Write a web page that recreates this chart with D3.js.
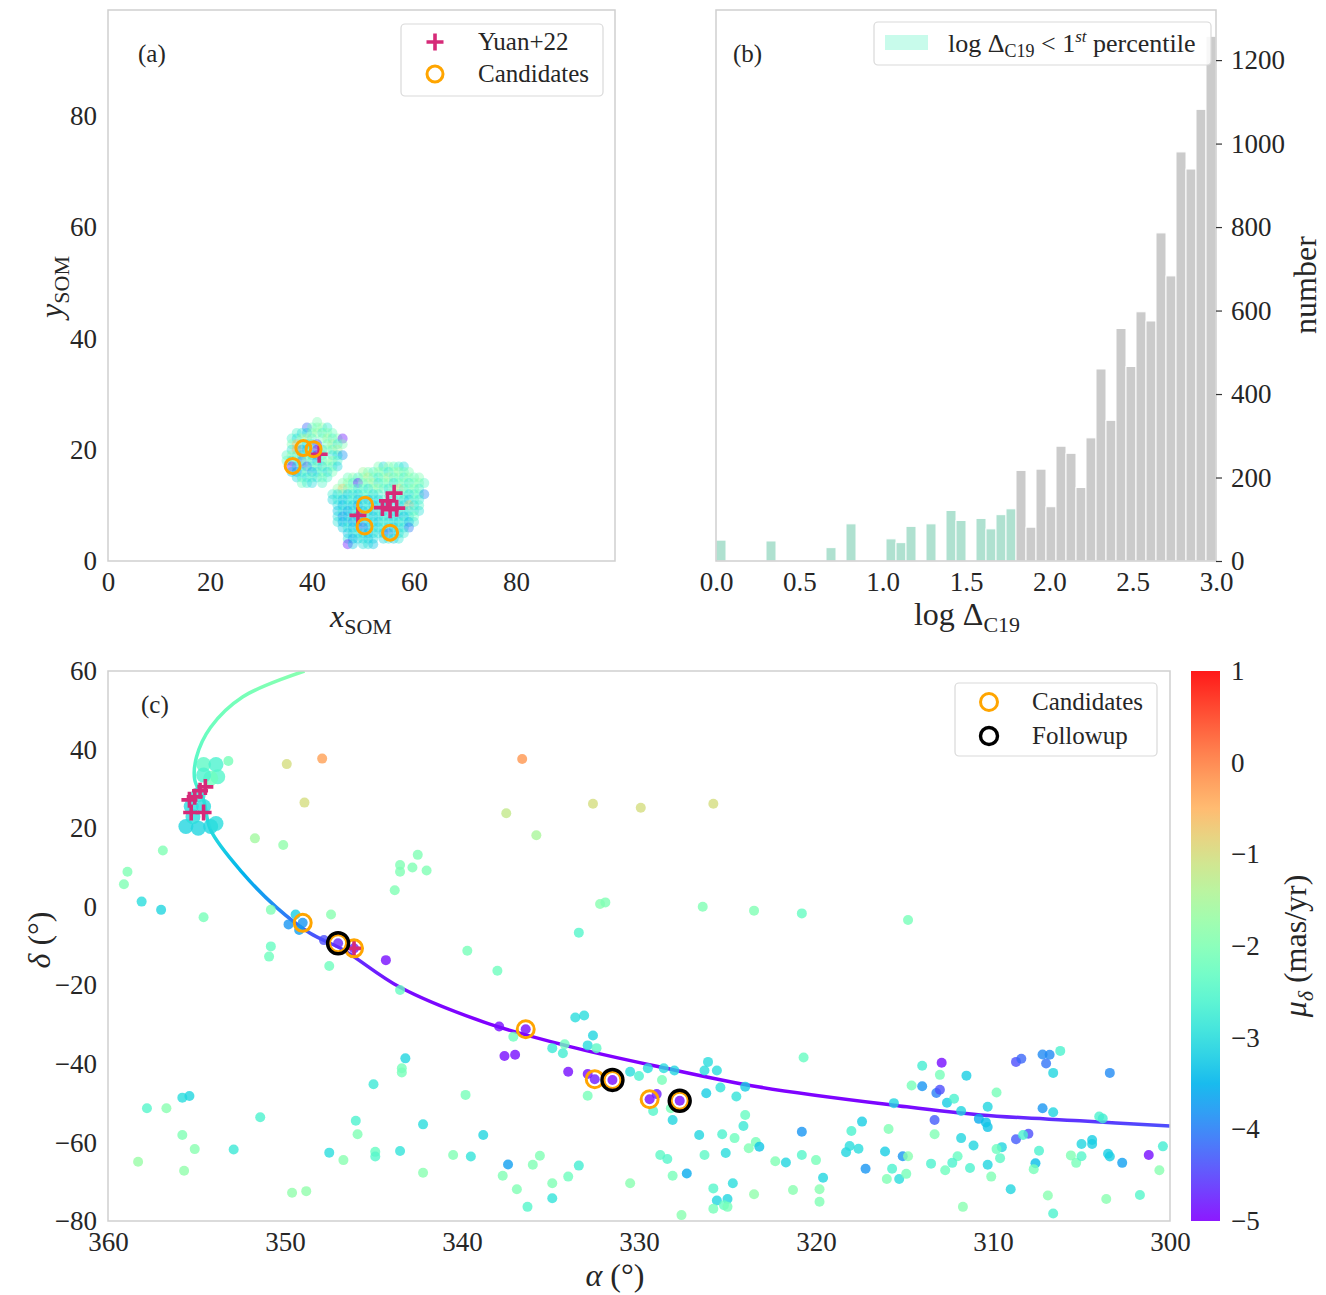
<!DOCTYPE html>
<html>
<head>
<meta charset="utf-8">
<script src="https://cdn.jsdelivr.net/npm/d3@7"></script>
<style>
  body { margin: 0; background: #fff; }
  text { font-family: "Liberation Serif", "Times New Roman", serif; fill: #262626; }
</style>
</head>
<body>
<svg id="fig" width="1326" height="1295"></svg>
<script>
// ---------- data ----------
// panel (a): SOM positions [x, y, pm_dec]
var somA = [
  [41,25,-2.0],
  [39,24,-4.2],[40,24,-2.2],[41,24,-2.0],[42,24,-1.8],[43,24,-2.8],
  [37,23,-2.5],[38,23,-2.9],[39,23,-3.2],[40,23,-2.0],[41,23,-1.7],[42,23,-2.6],[43,23,-1.9],[44,23,-2.2],
  [36,22,-2.6],[37,22,-3.0],[38,22,-1.8],[39,22,-1.5],[40,22,-2.4],[42,22,-2.2],[43,22,-1.6],[44,22,-2.5],[45,22,-2.0],[46,22,-4.8],
  [36,21,-2.0],[37,21,-0.6],[38,21,-2.4],[39,21,-3.0],[40,21,-2.8],[41,21,-4.5],[43,21,-2.2],[44,21,-1.5],[45,21,-2.8],[46,21,-2.0],
  [36,20,-2.9],[37,20,-0.4],[38,20,-3.6],[39,20,-3.3],[40,20,-2.2],[41,20,-4.9],[42,20,-3.0],[43,20,-1.8],[44,20,-2.4],[45,20,-1.5],
  [35,19,-2.4],[36,19,-1.8],[37,19,-2.5],[38,19,-3.1],[39,19,-2.0],[40,19,-3.4],[41,19,-4.7],[42,19,-2.6],[44,19,-2.9],[45,19,-3.0],[46,19,-3.8],
  [35,18,-2.2],[36,18,-3.0],[37,18,-2.0],[38,18,-4.0],[39,18,-1.9],[40,18,-2.7],[41,18,-3.2],[42,18,-2.3],[43,18,-2.1],[44,18,-1.7],[45,18,-2.6],
  [36,17,-4.9],[37,17,-3.2],[38,17,-2.4],[39,17,-4.3],[40,17,-2.8],[41,17,-2.0],[42,17,-3.1],[43,17,-2.0],[44,17,-2.5],[45,17,-3.1],
  [36,16,-3.3],[37,16,-3.9],[38,16,-3.0],[39,16,-2.2],[40,16,-3.6],[41,16,-2.9],[42,16,-2.3],[43,16,-3.1],[44,16,-2.1],
  [37,15,-3.1],[38,15,-2.6],[39,15,-3.0],[40,15,-2.3],[41,15,-2.9],[42,15,-2.0],[43,15,-2.6],
  [38,14,-2.2],[39,14,-2.7],[40,14,-3.0],[42,14,-2.5]
];
var somB = [
  [53,17,-2.0],[54,17,-3.0],[55,17,-1.8],[56,17,-2.2],[57,17,-2.6],[58,17,-3.0],
  [50,16,-1.6],[51,16,-2.0],[52,16,-2.4],[53,16,-1.8],[54,16,-2.1],[55,16,-2.8],[56,16,-2.0],[57,16,-1.7],[58,16,-2.3],[59,16,-2.0],
  [47,15,-2.2],[48,15,-1.9],[49,15,-2.5],[50,15,-2.0],[51,15,-1.3],[52,15,-2.2],[53,15,-2.7],[54,15,-2.0],[55,15,-1.5],[56,15,-2.4],[57,15,-2.0],[58,15,-2.6],[59,15,-1.8],[60,15,-2.2],[61,15,-2.0],
  [46,14,-2.0],[47,14,-1.8],[48,14,-2.6],[49,14,-4.8],[50,14,-2.2],[51,14,-2.0],[52,14,-1.6],[53,14,-2.8],[54,14,-2.2],[55,14,-2.0],[56,14,-2.9],[57,14,-2.3],[58,14,-2.0],[59,14,-2.7],[60,14,-2.1],[61,14,-1.9],[62,14,-2.4],
  [45,13,-1.8],[46,13,-0.8],[47,13,-2.3],[48,13,-2.0],[49,13,-2.8],[50,13,-2.2],[51,13,-3.0],[52,13,-2.1],[53,13,-1.7],[54,13,-2.4],[55,13,-2.8],[56,13,-2.0],[57,13,-0.9],[58,13,-2.5],[59,13,-2.2],[60,13,-1.9],[61,13,-2.6],
  [44,12,-2.7],[45,12,-3.0],[46,12,-2.5],[47,12,-3.2],[48,12,-2.8],[49,12,-3.1],[50,12,-2.6],[51,12,-2.3],[52,12,-3.0],[53,12,-2.7],[55,12,-2.4],[57,12,-2.6],[58,12,-2.0],[59,12,-3.0],[60,12,-2.6],[61,12,-2.2],[62,12,-3.9],
  [44,11,-3.1],[45,11,-2.8],[46,11,-3.3],[47,11,-3.0],[48,11,-2.6],[49,11,-3.3],[50,11,-2.9],[51,11,-3.5],[52,11,-2.8],[53,11,-3.1],[54,11,-2.6],[56,11,-3.0],[57,11,-2.4],[58,11,-2.9],[59,11,-3.2],[60,11,-2.2],[61,11,-2.8],
  [45,10,-3.0],[46,10,-3.4],[47,10,-2.9],[48,10,-3.2],[49,10,-3.6],[50,10,-3.0],[51,10,-2.7],[52,10,-3.3],[53,10,-3.0],[54,10,-2.8],[55,10,-3.2],[57,10,-2.9],[58,10,-3.1],[59,10,-0.7],[60,10,-3.0],[61,10,-2.5],
  [45,9,-3.3],[46,9,-2.9],[47,9,-3.6],[48,9,-3.1],[49,9,-2.8],[50,9,-3.4],[51,9,-3.0],[52,9,-3.2],[53,9,-2.6],[54,9,-3.1],[56,9,-2.8],[57,9,-3.2],[58,9,-2.5],[59,9,-3.0],[60,9,-2.4],[61,9,-2.9],
  [45,8,-3.0],[46,8,-3.8],[47,8,-3.2],[48,8,-2.7],[49,8,-3.4],[50,8,-3.1],[51,8,-2.6],[52,8,-3.3],[53,8,-2.9],[54,8,-3.0],[55,8,-2.8],[56,8,-3.2],[57,8,-2.7],[58,8,-3.4],[59,8,-2.9],[60,8,-2.3],
  [45,7,-2.9],[46,7,-3.5],[47,7,-3.1],[48,7,-3.7],[49,7,-3.0],[50,7,-3.3],[51,7,-2.8],[52,7,-3.0],[53,7,-3.2],[54,7,-2.6],[55,7,-3.0],[56,7,-2.8],[57,7,-3.1],[58,7,-2.6],[59,7,-3.5],[60,7,-2.7],
  [46,6,-3.2],[47,6,-2.8],[48,6,-3.4],[49,6,-3.0],[50,6,-4.2],[51,6,-3.3],[52,6,-2.9],[53,6,-3.1],[54,6,-2.7],[55,6,-3.0],[56,6,-3.3],[57,6,-2.8],[58,6,-3.0],[59,6,-4.0],
  [47,5,-3.3],[48,5,-3.0],[49,5,-2.7],[50,5,-3.1],[51,5,-3.4],[52,5,-3.0],[53,5,-2.8],[54,5,-3.2],[55,5,-4.2],[56,5,-2.9],[57,5,-3.1],[58,5,-2.7],
  [47,4,-3.0],[48,4,-3.6],[49,4,-3.1],[50,4,-2.9],[51,4,-3.3],[52,4,-3.0],[54,4,-3.1],[55,4,-2.8],[56,4,-3.2],[57,4,-2.8],
  [47,3,-4.8],[48,3,-3.2],[50,3,-3.0],[51,3,-2.9],[52,3,-3.3]
];
var somYuan = [[41.4,19.2],[49.0,8.2],[53.8,9.6],[54.8,10.8],[56.1,12.2],[56.6,9.5],[55.3,9.2]];
var somCand = [[36.2,17.1],[38.3,20.3],[40.3,20.1],[50.4,10.1],[50.3,6.2],[55.3,5.1]];

// panel (b): histogram of log Delta_C19, 50 bins over [0, 3]
var histEdges = [0, 3];
var histCounts = [50,0,0,0,0,48,0,0,0,0, 0,32,0,89,0,0,0,53,44,83,
                  0,89,0,121,97,0,102,77,111,125, 217,81,220,130,275,258,176,295,460,337,
                  557,466,597,575,786,683,980,939,1082,1257];
var percentileCut = 1.8;

// panel (c): [ra, dec, pm_dec]
var fieldStars = [
  [349.9,36.3,-1.0],[347.9,37.7,-0.3],[348.9,26.5,-1.0],[351.7,17.4,-1.6],[350.1,15.7,-1.8],[356.9,14.3,-2.0],
  [358.9,8.9,-2.0],[359.1,5.7,-2.0],[358.1,1.3,-3.0],[357.0,-0.8,-3.1],[354.6,-2.7,-2.1],[350.8,-0.8,-2.0],
  [347.4,-2.0,-1.9],[350.8,-10.1,-2.3],[350.9,-12.7,-2.2],[349.8,-4.5,-3.8],[349.4,-2.0,-3.2],[349.2,-5.9,-3.7],
  [349.0,-4.1,-3.8],[347.5,-15.1,-2.2],[347.8,-8.5,-4.4],[347.0,-9.3,-4.7],[346.1,-10.6,-4.8],[344.3,-13.6,-4.9],
  [339.7,-11.2,-2.1],[338.0,-16.3,-2.2],[343.5,-21.2,-2.3],[337.9,-30.5,-4.9],[336.4,-31.2,-4.9],[337.1,-33.1,-2.2],
  [334.9,-36.0,-2.8],[334.3,-37.3,-2.7],[334.2,-35.0,-2.2],[337.6,-38.0,-4.9],[337.0,-37.7,-4.9],[334.0,-42.0,-4.9],
  [343.2,-38.6,-3.1],[343.4,-41.1,-2.1],[343.4,-42.2,-2.1],[345.0,-45.2,-2.8],[339.8,-47.9,-2.1],[351.4,-53.6,-2.6],
  [346.0,-54.5,-2.6],[345.9,-57.9,-2.0],[342.2,-55.4,-3.0],[338.8,-58.1,-3.1],[347.5,-62.6,-3.0],[346.7,-64.5,-1.9],
  [344.9,-62.4,-2.3],[344.9,-63.6,-2.5],[343.5,-62.2,-2.9],[340.5,-63.2,-2.0],[339.5,-63.6,-2.9],[337.4,-65.6,-3.7],
  [337.7,-68.5,-2.0],[336.9,-71.9,-2.0],[336.3,-76.4,-2.5],[336.0,-65.7,-2.0],[335.6,-63.4,-2.0],[334.9,-70.4,-2.0],
  [334.9,-74.2,-2.9],[334.0,-68.7,-2.2],[342.2,-67.7,-1.9],[349.6,-72.8,-1.8],[348.8,-72.4,-1.8],[357.8,-51.3,-2.5],
  [356.7,-51.3,-1.9],[355.8,-48.6,-3.0],[355.4,-48.2,-3.1],[355.8,-58.1,-2.0],[355.1,-61.7,-1.9],[358.3,-64.9,-1.7],
  [355.7,-67.2,-1.8],[352.9,-61.8,-2.8],[333.6,-28.2,-3.0],[333.1,-27.7,-3.0],[332.6,-32.8,-3.1],[332.9,-35.3,-3.0],
  [332.4,-36.0,-2.4],[332.9,-42.6,-4.9],[332.5,-43.9,-4.8],[332.9,-48.1,-2.1],[331.5,-44.1,-4.9],[330.5,-42.0,-3.0],
  [330.0,-43.1,-2.6],[329.5,-41.1,-3.0],[328.6,-41.1,-3.0],[328.0,-41.7,-3.1],[328.7,-44.1,-2.1],[329.4,-49.0,-4.9],
  [329.0,-47.7,-4.8],[329.2,-52.0,-2.5],[328.2,-51.3,-2.1],[328.1,-54.3,-3.1],[327.7,-49.4,-4.9],[326.3,-41.7,-3.0],
  [325.6,-41.7,-3.0],[326.1,-39.5,-3.0],[325.4,-46.0,-2.9],[324.5,-48.3,-2.9],[326.2,-47.5,-3.2],[324.0,-45.8,-3.2],
  [320.7,-38.4,-2.3],[324.0,-53.0,-2.3],[324.1,-55.8,-2.8],[326.6,-58.1,-3.1],[325.3,-57.9,-2.6],[324.6,-58.9,-2.2],
  [323.4,-59.9,-2.1],[323.2,-61.1,-3.3],[323.8,-61.5,-2.0],[320.8,-57.3,-3.8],[320.8,-63.2,-2.5],[320.0,-64.5,-2.1],
  [321.7,-65.1,-3.1],[322.3,-64.8,-2.0],[319.6,-69.0,-3.1],[326.3,-63.2,-2.4],[325.1,-62.7,-3.0],[328.8,-63.2,-2.4],
  [328.4,-64.2,-2.5],[328.1,-68.5,-2.1],[327.3,-67.9,-3.6],[330.5,-70.4,-1.9],[333.4,-65.9,-2.7],[325.8,-71.7,-2.5],
  [324.7,-70.4,-3.0],[325.6,-74.8,-3.1],[325.0,-74.4,-3.1],[325.8,-76.9,-2.1],[325.2,-76.0,-2.3],[325.0,-76.4,-2.1],
  [323.5,-73.2,-1.8],[321.3,-72.1,-1.9],[319.8,-71.9,-1.9],[319.8,-75.1,-2.0],[327.6,-78.5,-1.9],[318.3,-62.5,-3.1],
  [318.1,-60.9,-3.0],[317.6,-61.6,-3.0],[318.0,-57.1,-2.6],[317.4,-54.7,-3.2],[317.2,-66.7,-3.8],[316.1,-62.3,-3.2],
  [315.9,-56.6,-2.0],[315.7,-66.7,-2.6],[316.0,-69.3,-2.0],[315.3,-69.3,-3.0],[315.6,-50.0,-3.1],[314.0,-40.5,-2.7],
  [312.9,-39.7,-4.9],[313.0,-42.8,-2.1],[314.6,-45.5,-2.1],[314.0,-45.7,-3.8],[313.2,-47.4,-4.0],[313.0,-46.6,-4.4],
  [311.5,-43.0,-3.2],[312.6,-49.9,-3.2],[312.2,-48.9,-2.6],[311.8,-52.0,-3.1],[309.8,-47.3,-2.1],[310.8,-54.0,-3.6],
  [310.4,-54.9,-3.4],[310.3,-56.1,-3.3],[310.3,-50.9,-3.1],[313.3,-54.3,-4.3],[313.3,-57.9,-2.0],[311.8,-58.9,-3.1],
  [311.1,-60.8,-3.1],[308.7,-39.5,-4.4],[308.4,-38.7,-4.2],[307.2,-37.6,-3.9],[306.8,-37.7,-3.9],[307.0,-39.9,-4.1],
  [306.2,-36.7,-2.6],[306.6,-42.3,-3.1],[303.4,-42.3,-3.9],[307.2,-51.3,-3.8],[306.6,-52.3,-3.1],[304.0,-53.4,-2.6],
  [303.8,-53.9,-2.7],[308.7,-59.2,-4.3],[308.0,-57.8,-4.4],[308.3,-58.1,-2.6],[309.5,-61.2,-3.1],[309.8,-61.7,-2.2],
  [309.6,-64.0,-2.4],[310.3,-65.7,-3.1],[310.1,-68.7,-2.0],[309.0,-71.9,-3.1],[311.7,-76.4,-1.9],[311.3,-66.5,-2.6],
  [312.0,-63.5,-2.3],[312.3,-65.2,-2.6],[312.7,-67.1,-2.2],[313.5,-65.4,-2.6],[315.1,-63.5,-3.8],[314.8,-63.5,-1.9],
  [314.9,-68.0,-2.1],[307.4,-62.1,-2.6],[307.6,-65.3,-3.4],[307.7,-66.8,-2.1],[306.9,-73.5,-1.9],[306.6,-78.1,-2.6],
  [305.6,-63.3,-2.0],[305.3,-65.2,-2.1],[305.0,-63.5,-2.5],[305.0,-60.4,-3.1],[304.4,-59.4,-3.2],[304.4,-60.4,-3.2],
  [303.5,-62.9,-3.2],[303.4,-63.6,-3.2],[302.7,-65.2,-3.7],[303.6,-74.4,-1.9],[301.7,-73.4,-2.5],[301.2,-63.2,-4.9],
  [300.4,-61.0,-2.7],[300.6,-67.1,-1.9],[336.6,37.6,-0.2],[337.5,23.8,-1.2],[332.6,26.2,-1.0],[329.9,25.2,-1.0],
  [325.8,26.2,-1.0],[335.8,18.2,-1.5],[342.5,13.2,-2.0],[343.5,10.6,-2.0],[343.5,8.9,-2.0],[342.8,10.0,-2.0],
  [342.0,9.2,-2.0],[343.8,4.2,-2.0],[332.2,0.7,-1.9],[331.9,1.1,-2.0],[326.4,0.0,-2.0],[323.5,-1.0,-2.0],
  [320.8,-1.7,-2.3],[314.8,-3.4,-2.1],[333.4,-6.6,-2.5],[353.2,37.1,-2.1]
];
var clusterStars = [
  [354.6,36.2,-2.4],[353.9,36.2,-2.6],[353.8,33.1,-2.5],[354.2,32.7,-2.2],[354.6,33.5,-2.6],[355.3,25.5,-3.0],
  [355.6,20.4,-3.1],[354.9,20.0,-3.1],[354.2,20.4,-3.1],[353.9,21.2,-3.0],[354.6,25.5,-3.0],[355.2,22.9,-3.0],
  [354.9,28.5,-2.9]
];
var yuanStars = [[355.3,24.0],[354.6,24.0],[355.1,28.0],[354.8,29.5],[354.5,30.5],[355.4,27.2],[346.1,-10.6]];
var candStars = [[349.0,-4.1],[347.0,-9.3],[346.1,-10.6],[336.4,-31.2],[332.5,-43.9],[331.5,-44.1],[329.4,-49.0],[327.7,-49.4]];
var followStars = [[347.0,-9.3],[331.5,-44.1],[327.7,-49.4]];

// orbit track (ra, dec, pm_dec)
var orbitRA  = [348.9, 352.4, 354.2, 355.0, 355.1, 354.6, 354.2, 352.4, 350.5, 348.6, 346.7, 343.5, 338.8, 333.9, 328.8, 323.2, 315.3, 310.7, 305.1, 300.0];
var orbitDec = [60.0, 53.4, 45.7, 38.1, 32.3, 27.2, 19.5, 8.6, -0.1, -6.7, -11.0, -20.5, -29.3, -35.6, -40.8, -45.9, -50.7, -53.0, -54.5, -55.8];
var orbitPm  = [-1.9, -2.1, -2.2, -2.4, -2.6, -2.8, -3.0, -3.5, -3.9, -4.3, -4.6, -4.9, -5.0, -5.0, -5.0, -5.0, -4.95, -4.8, -4.6, -4.4];

var cbTicks = [1, 0, -1, -2, -3, -4, -5];

// ---------- helpers ----------
var FONT = '"Liberation Serif", "Times New Roman", serif';
var SPINE = "#cfcfcf";
var MAGENTA = "#d62a78";
var ORANGE = "#ffa500";

function rainbow(t) {
  t = Math.max(0, Math.min(1, t));
  var c = v => Math.round(255 * Math.max(0, Math.min(1, v)));
  return "rgb(" + c(Math.abs(2 * t - 0.5)) + "," + c(Math.sin(Math.PI * t)) + "," + c(Math.cos(Math.PI * t / 2)) + ")";
}
var pmNorm = d3.scaleLinear().domain([-5, 1]).range([0, 1]);
var pmColor = v => rainbow(pmNorm(v));

var svg = d3.select("#fig");

function frame(x0, x1, y0, y1) {
  svg.append("rect")
    .attr("x", x0).attr("y", y0)
    .attr("width", x1 - x0).attr("height", y1 - y0)
    .attr("fill", "none").attr("stroke", SPINE).attr("stroke-width", 1.5);
}

function styleAxis(g) {
  g.select(".domain").remove();
  g.attr("font-family", FONT).attr("font-size", 27).attr("color", "#262626");
}

function crossMark(size) {
  return "M" + (-size) + ",0H" + size + "M0," + (-size) + "V" + size;
}

function legendBox(x, y, w, h) {
  svg.append("rect")
    .attr("x", x).attr("y", y).attr("width", w).attr("height", h)
    .attr("rx", 4).attr("fill", "#fff").attr("fill-opacity", 0.85)
    .attr("stroke", "#d9d9d9").attr("stroke-width", 1.2);
}

// ---------- panel (a) ----------
var aX = d3.scaleLinear().domain([0, 99.4]).range([108, 615]);
var aY = d3.scaleLinear().domain([0, 99.05]).range([561, 10]);

svg.append("g").selectAll("circle")
  .data(somA.concat(somB))
  .enter()
  .append("circle")
  .attr("cx", d => aX(d[0]))
  .attr("cy", d => aY(d[1]))
  .attr("r", 5)
  .attr("fill", d => pmColor(d[2]))
  .attr("fill-opacity", 0.42);

svg.append("g").selectAll("path")
  .data(somYuan)
  .enter()
  .append("path")
  .attr("transform", d => "translate(" + aX(d[0]) + "," + aY(d[1]) + ")")
  .attr("d", crossMark(8.5))
  .attr("stroke", MAGENTA).attr("stroke-width", 3.6).attr("fill", "none");

svg.append("g").selectAll("circle")
  .data(somCand)
  .enter()
  .append("circle")
  .attr("cx", d => aX(d[0]))
  .attr("cy", d => aY(d[1]))
  .attr("r", 7.5)
  .attr("fill", "none").attr("stroke", ORANGE).attr("stroke-width", 3);

frame(108, 615, 10, 561);
svg.append("g").attr("transform", "translate(0,561)")
  .call(d3.axisBottom(aX).tickValues([0, 20, 40, 60, 80]).tickSize(0).tickPadding(11))
  .call(styleAxis);
svg.append("g").attr("transform", "translate(108,0)")
  .call(d3.axisLeft(aY).tickValues([0, 20, 40, 60, 80]).tickSize(0).tickPadding(11))
  .call(styleAxis);

svg.append("text").attr("x", 138).attr("y", 62).attr("font-size", 25).text("(a)");

var xl = svg.append("text").attr("x", 361).attr("y", 627).attr("text-anchor", "middle").attr("font-size", 32);
xl.append("tspan").attr("font-style", "italic").text("x");
xl.append("tspan").attr("font-size", 22).attr("dy", 7).text("SOM");

var yl = svg.append("text").attr("transform", "translate(62,287) rotate(-90)").attr("text-anchor", "middle").attr("font-size", 32);
yl.append("tspan").attr("font-style", "italic").text("y");
yl.append("tspan").attr("font-size", 22).attr("dy", 7).text("SOM");

legendBox(401, 24, 202, 72);
svg.append("path").attr("transform", "translate(435,42)").attr("d", crossMark(8.5))
  .attr("stroke", MAGENTA).attr("stroke-width", 3.6).attr("fill", "none");
svg.append("circle").attr("cx", 435).attr("cy", 74).attr("r", 8)
  .attr("fill", "none").attr("stroke", ORANGE).attr("stroke-width", 3);
svg.append("text").attr("x", 478).attr("y", 50).attr("font-size", 25).text("Yuan+22");
svg.append("text").attr("x", 478).attr("y", 82).attr("font-size", 25).text("Candidates");

// ---------- panel (b) ----------
var binW = (histEdges[1] - histEdges[0]) / histCounts.length;
var bins = histCounts.map((c, i) => ({ x0: histEdges[0] + i * binW, x1: histEdges[0] + (i + 1) * binW, n: c }));
var bX = d3.scaleLinear().domain(histEdges).range([716, 1216]);
var bY = d3.scaleLinear().domain([0, 1320]).range([561, 10]);

svg.append("g").selectAll("rect")
  .data(bins.filter(b => b.n > 0))
  .enter()
  .append("rect")
  .attr("x", d => bX(d.x0))
  .attr("y", d => bY(d.n))
  .attr("width", d => bX(d.x1) - bX(d.x0))
  .attr("height", d => bY(0) - bY(d.n))
  .attr("fill", d => d.x1 <= percentileCut + 1e-9 ? "#afe1d0" : "#cbcbcb")
  .attr("stroke", "#fff").attr("stroke-width", 1);

frame(716, 1216, 10, 561);
svg.append("g").attr("transform", "translate(0,561)")
  .call(d3.axisBottom(bX).tickValues([0, 0.5, 1, 1.5, 2, 2.5, 3]).tickFormat(d3.format(".1f")).tickSize(0).tickPadding(11))
  .call(styleAxis);
svg.append("g").attr("transform", "translate(1216,0)")
  .call(d3.axisRight(bY).tickValues([0, 200, 400, 600, 800, 1000, 1200]).tickFormat(d3.format("d")).tickSize(6).tickPadding(9))
  .call(styleAxis)
  .call(g => g.selectAll(".tick line").attr("stroke", "#333").attr("stroke-width", 1.2));

svg.append("text").attr("x", 733).attr("y", 62).attr("font-size", 25).text("(b)");

var bl = svg.append("text").attr("x", 967).attr("y", 625).attr("text-anchor", "middle").attr("font-size", 32);
bl.append("tspan").text("log \u0394");
bl.append("tspan").attr("font-size", 22).attr("dy", 7).text("C19");

svg.append("text").attr("transform", "translate(1316,285) rotate(-90)")
  .attr("text-anchor", "middle").attr("font-size", 32).text("number");

legendBox(874, 22, 337, 43);
svg.append("rect").attr("x", 885).attr("y", 35).attr("width", 43).attr("height", 15).attr("fill", "#c8fbeb");
var lt = svg.append("text").attr("x", 948).attr("y", 52).attr("font-size", 26);
lt.append("tspan").text("log \u0394");
lt.append("tspan").attr("font-size", 18).attr("dy", 5).text("C19");
lt.append("tspan").attr("dy", -5).text(" < 1");
lt.append("tspan").attr("font-size", 17).attr("font-style", "italic").attr("dy", -10).text("st");
lt.append("tspan").attr("dy", 10).text(" percentile");

// ---------- panel (c) ----------
var cX = d3.scaleLinear().domain([360, 300]).range([108, 1170]);
var cY = d3.scaleLinear().domain([-80, 60]).range([1221, 671]);

// orbit track coloured by pm_dec along dec
var orbit = orbitRA.map((r, i) => [r, orbitDec[i], orbitPm[i]]);
var gy1 = cY(orbitDec[0]), gy2 = cY(orbitDec[orbitDec.length - 1]);
var grad = svg.append("defs").append("linearGradient")
  .attr("id", "orbitGrad").attr("gradientUnits", "userSpaceOnUse")
  .attr("x1", 0).attr("x2", 0).attr("y1", gy1).attr("y2", gy2);
orbit.forEach(d => {
  grad.append("stop").attr("offset", (cY(d[1]) - gy1) / (gy2 - gy1)).attr("stop-color", pmColor(d[2]));
});

svg.append("defs").append("clipPath").attr("id", "clipC")
  .append("rect").attr("x", 108).attr("y", 671).attr("width", 1062).attr("height", 550);

svg.append("path")
  .datum(orbit)
  .attr("clip-path", "url(#clipC)")
  .attr("d", d3.line().x(d => cX(d[0])).y(d => cY(d[1])).curve(d3.curveCatmullRom.alpha(0.5)))
  .attr("fill", "none").attr("stroke", "url(#orbitGrad)").attr("stroke-width", 3.5);

svg.append("g").selectAll("circle")
  .data(fieldStars)
  .enter()
  .append("circle")
  .attr("cx", d => cX(d[0]))
  .attr("cy", d => cY(d[1]))
  .attr("r", 5)
  .attr("fill", d => pmColor(d[2]))
  .attr("fill-opacity", 0.8);

svg.append("g").selectAll("circle")
  .data(clusterStars)
  .enter()
  .append("circle")
  .attr("cx", d => cX(d[0]))
  .attr("cy", d => cY(d[1]))
  .attr("r", 7.5)
  .attr("fill", d => pmColor(d[2]))
  .attr("fill-opacity", 0.8);

svg.append("g").selectAll("path")
  .data(yuanStars)
  .enter()
  .append("path")
  .attr("transform", d => "translate(" + cX(d[0]) + "," + cY(d[1]) + ")")
  .attr("d", crossMark(8))
  .attr("stroke", MAGENTA).attr("stroke-width", 3.6).attr("fill", "none");

svg.append("g").selectAll("circle")
  .data(candStars)
  .enter()
  .append("circle")
  .attr("cx", d => cX(d[0]))
  .attr("cy", d => cY(d[1]))
  .attr("r", 8.5)
  .attr("fill", "none").attr("stroke", ORANGE).attr("stroke-width", 3);

svg.append("g").selectAll("circle")
  .data(followStars)
  .enter()
  .append("circle")
  .attr("cx", d => cX(d[0]))
  .attr("cy", d => cY(d[1]))
  .attr("r", 10.5)
  .attr("fill", "none").attr("stroke", "#000").attr("stroke-width", 3.4);

frame(108, 1170, 671, 1221);
svg.append("g").attr("transform", "translate(0,1221)")
  .call(d3.axisBottom(cX).tickValues([360, 350, 340, 330, 320, 310, 300]).tickSize(0).tickPadding(11))
  .call(styleAxis);
svg.append("g").attr("transform", "translate(108,0)")
  .call(d3.axisLeft(cY).tickValues([60, 40, 20, 0, -20, -40, -60, -80]).tickSize(0).tickPadding(11))
  .call(styleAxis);

svg.append("text").attr("x", 141).attr("y", 713).attr("font-size", 25).text("(c)");

var al = svg.append("text").attr("x", 615).attr("y", 1286).attr("text-anchor", "middle").attr("font-size", 32);
al.append("tspan").attr("font-style", "italic").text("\u03b1");
al.append("tspan").text(" (\u00b0)");

var dl = svg.append("text").attr("transform", "translate(50,940) rotate(-90)").attr("text-anchor", "middle").attr("font-size", 32);
dl.append("tspan").attr("font-style", "italic").text("\u03b4");
dl.append("tspan").text(" (\u00b0)");

legendBox(955, 683, 202, 73);
svg.append("circle").attr("cx", 989).attr("cy", 702).attr("r", 8.5)
  .attr("fill", "none").attr("stroke", ORANGE).attr("stroke-width", 3);
svg.append("circle").attr("cx", 989).attr("cy", 736).attr("r", 8.5)
  .attr("fill", "none").attr("stroke", "#000").attr("stroke-width", 3.4);
svg.append("text").attr("x", 1032).attr("y", 710).attr("font-size", 25).text("Candidates");
svg.append("text").attr("x", 1032).attr("y", 744).attr("font-size", 25).text("Followup");

// ---------- colorbar ----------
var cb = d3.scaleLinear().domain([-5, 1]).range([1221, 671]);
var cbGrad = svg.append("defs").append("linearGradient")
  .attr("id", "cbGrad").attr("x1", 0).attr("x2", 0).attr("y1", 1).attr("y2", 0);
d3.range(0, 1.0001, 0.05).forEach(t => {
  cbGrad.append("stop").attr("offset", t).attr("stop-color", rainbow(t));
});
svg.append("rect").attr("x", 1191).attr("y", 671).attr("width", 29).attr("height", 550)
  .attr("fill", "url(#cbGrad)").attr("fill-opacity", 0.9);
svg.append("g").attr("transform", "translate(1220,0)")
  .call(d3.axisRight(cb).tickValues(cbTicks).tickFormat(d3.format("d")).tickSize(0).tickPadding(11))
  .call(styleAxis);

var ml = svg.append("text").attr("transform", "translate(1306,946) rotate(-90)").attr("text-anchor", "middle").attr("font-size", 32);
ml.append("tspan").attr("font-style", "italic").text("\u03bc");
ml.append("tspan").attr("font-style", "italic").attr("font-size", 22).attr("dy", 7).text("\u03b4");
ml.append("tspan").attr("dy", -7).text(" (mas/yr)");
</script>
</body>
</html>
